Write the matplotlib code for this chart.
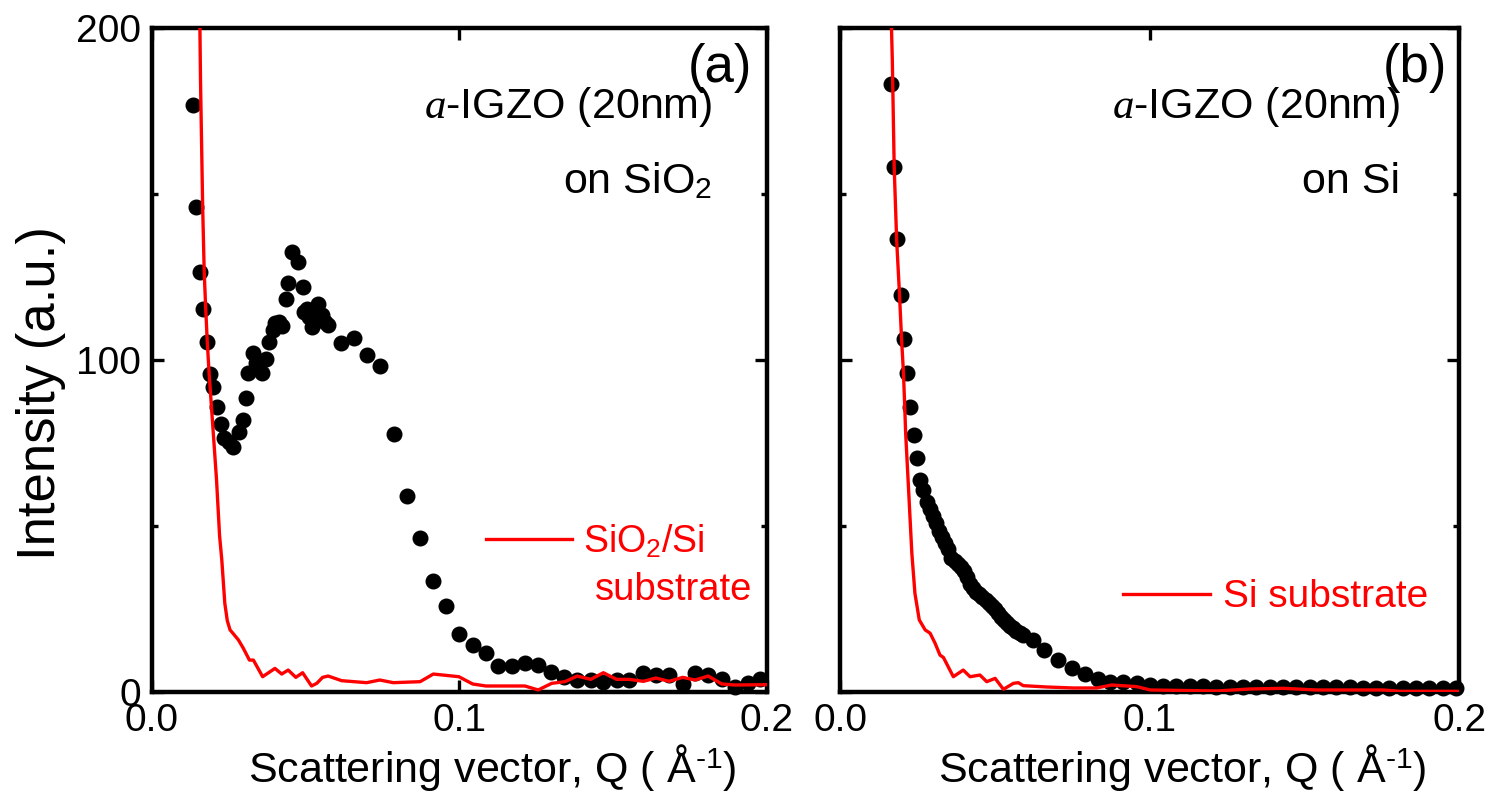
import matplotlib
matplotlib.use("Agg")
import matplotlib.pyplot as plt
from matplotlib.ticker import MultipleLocator, FixedLocator

plt.rcParams['font.family'] = ['Liberation Sans', 'DejaVu Sans']
plt.rcParams['mathtext.fontset'] = 'custom'
plt.rcParams['mathtext.rm'] = 'Liberation Sans'
plt.rcParams['mathtext.it'] = 'Liberation Serif:italic'
plt.rcParams['mathtext.bf'] = 'Liberation Sans:bold'

# ---------------- data: panel (a) a-IGZO on SiO2 ----------------
q_a = [0.0132, 0.0143, 0.0156, 0.0165, 0.0178, 0.0189, 0.0199, 0.0212, 0.0223, 0.0234,
       0.0251, 0.0264, 0.0284, 0.0295, 0.0306, 0.0313, 0.0329, 0.0340, 0.0357, 0.0371,
       0.0382, 0.0395, 0.0400, 0.0413, 0.0422, 0.0436, 0.0443, 0.0454, 0.0476, 0.0490,
       0.0494, 0.0503, 0.0512, 0.0519, 0.0532, 0.0541, 0.0552, 0.0562, 0.0573, 0.0614,
       0.0657, 0.0700, 0.0741, 0.0787, 0.0828, 0.0872, 0.0913, 0.0956, 0.0999, 0.1043,
       0.1086, 0.1126, 0.1170, 0.1213, 0.1256, 0.1297, 0.1340, 0.1383, 0.1427, 0.1468,
       0.1511, 0.1552, 0.1598, 0.1639, 0.1682, 0.1726, 0.1766, 0.1809, 0.1853, 0.1896,
       0.1939, 0.1977]
i_a = [176.8, 146.0, 126.4, 115.3, 105.3, 95.8, 91.8, 85.9, 80.7, 76.4,
       75.4, 73.9, 78.4, 81.9, 88.4, 96.2, 102.0, 99.0, 96.0, 100.2,
       105.3, 109.0, 111.0, 111.5, 110.2, 118.4, 123.1, 132.4, 129.6, 122.1,
       114.6, 115.5, 113.0, 110.0, 112.5, 116.9, 113.6, 111.5, 110.5, 105.0,
       106.7, 101.5, 98.2, 77.7, 59.1, 46.3, 33.5, 26.0, 17.5, 14.2,
       11.6, 7.8, 7.8, 8.6, 8.1, 6.1, 4.6, 3.6, 3.6, 3.1,
       3.6, 3.6, 5.8, 5.1, 5.1, 2.4, 5.8, 5.1, 3.8, 1.5,
       2.6, 4.0]

q_sub_a = [0.0150, 0.0156, 0.0158, 0.0165, 0.0170, 0.0175, 0.0180, 0.0186, 0.0195, 0.0210,
           0.0220, 0.0227, 0.0237, 0.0245, 0.0254, 0.0265, 0.0281, 0.0297, 0.0317, 0.0330,
           0.0360, 0.0400, 0.0422, 0.0443, 0.0468, 0.0490, 0.0519, 0.0536, 0.0555, 0.0573,
           0.0617, 0.0698, 0.0741, 0.0785, 0.0872, 0.0915, 0.0998, 0.1043, 0.1086, 0.1213,
           0.1256, 0.1300, 0.1343, 0.1383, 0.1427, 0.1468, 0.1511, 0.1552, 0.1598, 0.1639,
           0.1682, 0.1726, 0.1766, 0.1809, 0.1853, 0.1896, 0.2000]
i_sub_a = [215.0, 200.0, 184.0, 146.0, 126.5, 115.2, 105.4, 95.9, 84.0, 64.0,
           47.0, 40.0, 26.7, 21.5, 18.7, 17.5, 15.7, 13.2, 9.6, 9.6,
           4.6, 7.1, 5.4, 6.6, 4.4, 5.8, 1.8, 2.6, 4.4, 4.8,
           3.4, 2.8, 3.6, 2.8, 3.1, 5.4, 4.6, 2.4, 1.8, 1.8,
           0.6, 2.6, 3.1, 4.8, 3.8, 5.8, 3.8, 3.8, 3.2, 4.2,
           3.2, 4.4, 3.6, 4.8, 2.4, 2.1, 2.2]

# ---------------- data: panel (b) a-IGZO on Si ----------------
q_b = [0.0164, 0.0174, 0.0184, 0.0196, 0.0207, 0.0216, 0.0227, 0.0239, 0.0248, 0.0258,
       0.0269, 0.0280, 0.0290, 0.0300, 0.0310, 0.0320, 0.0330, 0.0340, 0.0350, 0.0360,
       0.0370, 0.0380, 0.0390, 0.0400, 0.0410, 0.0420, 0.0430, 0.0440, 0.0450, 0.0460,
       0.0470, 0.0480, 0.0490, 0.0500, 0.0510, 0.0520, 0.0530, 0.0540, 0.0550, 0.0560,
       0.0570, 0.0580, 0.0590, 0.0623, 0.0660, 0.0705, 0.0749, 0.0792, 0.0835, 0.0872,
       0.0915, 0.0958, 0.1001, 0.1044, 0.1087, 0.1130, 0.1173, 0.1216, 0.1259, 0.1302,
       0.1345, 0.1388, 0.1431, 0.1474, 0.1517, 0.1560, 0.1603, 0.1646, 0.1689, 0.1732,
       0.1775, 0.1818, 0.1861, 0.1904, 0.1947, 0.1990]
i_b = [183.1, 158.2, 136.4, 119.7, 106.3, 96.2, 85.9, 77.4, 70.4, 63.9,
       60.8, 57.3, 55.0, 53.0, 50.8, 48.5, 46.8, 45.0, 43.0, 40.5,
       39.5, 38.5, 37.5, 36.3, 34.5, 32.5, 31.2, 30.2, 29.4, 28.5,
       27.7, 26.9, 26.0, 25.0, 23.8, 22.6, 21.6, 20.8, 20.0, 19.2,
       18.5, 17.8, 17.2, 15.7, 12.7, 9.6, 7.1, 5.4, 3.8, 3.1,
       2.9, 2.6, 2.1, 1.9, 1.8, 1.7, 1.7, 1.6, 1.6, 1.6,
       1.5, 1.5, 1.5, 1.5, 1.4, 1.4, 1.4, 1.4, 1.3, 1.3,
       1.3, 1.3, 1.2, 1.2, 1.2, 1.2]

q_sub_b = [0.0163, 0.0169, 0.0175, 0.0183, 0.0192, 0.0199, 0.0205, 0.0209, 0.0212, 0.0221,
           0.0232, 0.0242, 0.0256, 0.0275, 0.0291, 0.0307, 0.0323, 0.0334, 0.0366, 0.0398,
           0.0420, 0.0452, 0.0474, 0.0501, 0.0528, 0.0560, 0.0576, 0.0592, 0.0668, 0.0754,
           0.0829, 0.0878, 0.0959, 0.1002, 0.1217, 0.1325, 0.1432, 0.1540, 0.1755, 0.1808,
           0.2000]
i_sub_b = [212.0, 190.0, 158.0, 136.0, 120.0, 106.0, 96.0, 86.0, 78.0, 61.8,
           41.8, 29.7, 21.7, 18.7, 17.7, 14.7, 11.1, 10.4, 4.6, 6.6,
           4.6, 5.1, 3.1, 4.1, 0.8, 2.6, 2.8, 1.9, 1.5, 1.2,
           1.2, 2.1, 1.6, 0.6, 0.3, 0.9, 1.1, 0.6, 0.6, 0.2,
           0.2]

x_ticks = [0.0, 0.1, 0.2]
x_ticklabels = ["0.0", "0.1", "0.2"]
y_ticks = [0, 100, 200]
y_ticklabels = ["0", "100", "200"]

RED = '#ff0000'

fig = plt.figure(figsize=(14.91, 7.93), dpi=100)
ax_a = fig.add_axes([0.1019, 0.1274, 0.4125, 0.8373])
ax_b = fig.add_axes([0.5634, 0.1274, 0.4152, 0.8373])


def style(ax, show_ylabels):
    ax.set_xlim(0, 0.2)
    ax.set_ylim(0, 200)
    for s in ax.spines.values():
        s.set_linewidth(3.2)
    ax.xaxis.set_major_locator(FixedLocator(x_ticks))
    ax.set_xticklabels(x_ticklabels)
    ax.yaxis.set_major_locator(FixedLocator(y_ticks))
    ax.yaxis.set_minor_locator(MultipleLocator(50))
    if show_ylabels:
        ax.set_yticklabels(y_ticklabels)
    else:
        ax.set_yticklabels([])
    ax.tick_params(which='both', direction='in', top=True, right=True,
                   labelsize=28, width=2.4, color='black')
    ax.tick_params(which='major', length=8.5, pad=8)
    ax.tick_params(which='minor', length=4.5)
    ax.set_xlabel(r"Scattering vector, Q ( Å$^{\text{-1}}$)", fontsize=31)
    ax.xaxis.set_label_coords(0.553, -0.075)


style(ax_a, True)
style(ax_b, False)
ax_a.set_ylabel("Intensity (a.u.)", fontsize=38)
ax_a.yaxis.set_label_coords(-0.14, 0.45)

# panel (a)
ax_a.plot(q_a, i_a, 'o', color='black', markersize=10.5, zorder=2, clip_on=False)
ax_a.plot(q_sub_a, i_sub_a, '-', color=RED, linewidth=2.4, zorder=3)
ax_a.text(0.9756, 0.978, "(a)", transform=ax_a.transAxes, ha='right', va='top', fontsize=38)
ax_a.text(0.9106, 0.8645, r"$\mathit{a}$-IGZO (20nm)", transform=ax_a.transAxes,
          ha='right', va='baseline', fontsize=31)
ax_a.text(0.9106, 0.7515, r"on SiO$_{\mathrm{2}}$", transform=ax_a.transAxes,
          ha='right', va='baseline', fontsize=31)
ax_a.plot([0.543, 0.683], [0.2304, 0.2304], '-', color=RED, linewidth=2.4,
          transform=ax_a.transAxes)
ax_a.text(0.701, 0.2093, r"SiO$_{\mathrm{2}}$/Si", transform=ax_a.transAxes,
          ha='left', va='baseline', fontsize=27, color=RED)
ax_a.text(0.720, 0.1386, "substrate", transform=ax_a.transAxes,
          ha='left', va='baseline', fontsize=27.5, color=RED)

# panel (b)
ax_b.plot(q_b, i_b, 'o', color='black', markersize=10.5, zorder=2, clip_on=False)
ax_b.plot(q_sub_b, i_sub_b, '-', color=RED, linewidth=2.4, zorder=3)
ax_b.text(0.9806, 0.978, "(b)", transform=ax_b.transAxes, ha='right', va='top', fontsize=38)
ax_b.text(0.9047, 0.8645, r"$\mathit{a}$-IGZO (20nm)", transform=ax_b.transAxes,
          ha='right', va='baseline', fontsize=31)
ax_b.text(0.9047, 0.7515, "on Si", transform=ax_b.transAxes,
          ha='right', va='baseline', fontsize=31)
ax_b.plot([0.457, 0.598], [0.1476, 0.1476], '-', color=RED, linewidth=2.4,
          transform=ax_b.transAxes)
ax_b.text(0.619, 0.128, "Si substrate", transform=ax_b.transAxes,
          ha='left', va='baseline', fontsize=28, color=RED)

fig.savefig("out.png", dpi=100)
